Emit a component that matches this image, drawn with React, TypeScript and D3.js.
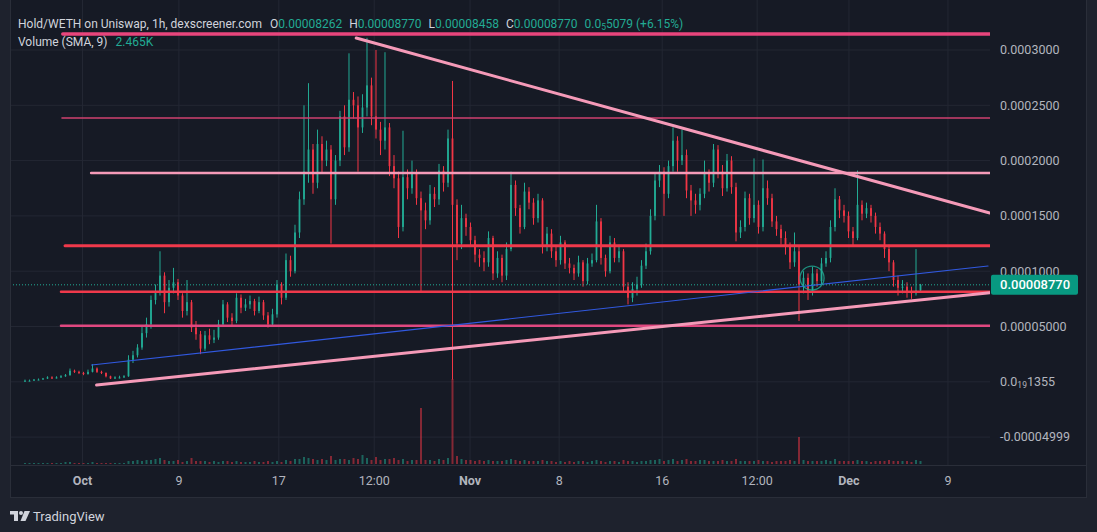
import * as d3 from "d3";
import React from "react";

// prices are in units of 1e-6 WETH, one candle per ~9 hours
const firstOpen = 1;
const closes = [
  1, 1, 2, 2, 3, 4, 3, 4, 5, 6,
  10, 9, 8, 7, 9, 12, 9, 8, 5, 3,
  4, 4, 5, 20, 24, 31, 44, 52, 74, 82,
  96, 72, 85, 90, 78, 64, 72, 49, 43, 30,
  42, 38, 40, 52, 70, 58, 55, 76, 67, 70,
  73, 64, 72, 60, 52, 61, 88, 76, 110, 100,
  135, 165, 190, 210, 180, 215, 200, 210, 165, 200,
  240, 212, 255, 250, 230, 248, 268, 240, 228, 218,
  230, 195, 184, 140, 185, 175, 188, 166, 155, 146,
  170, 165, 191, 180, 220, 160, 125, 148, 140, 128,
  115, 112, 108, 130, 98, 112, 96, 120, 178, 157,
  140, 172, 162, 148, 164, 122, 134, 118, 110, 126,
  107, 103, 98, 108, 91, 107, 110, 145, 112, 100,
  126, 112, 118, 86, 76, 84, 88, 105, 118, 150,
  182, 190, 170, 195, 218, 200, 205, 173, 164, 160,
  170, 188, 180, 210, 190, 175, 200, 176, 135, 140,
  166, 148, 160, 140, 175, 166, 145, 138, 130, 122,
  108, 118, 88, 94, 82, 98, 91, 107, 112, 140,
  165, 155, 150, 136, 130, 160, 152, 157, 150, 140,
  134, 120, 108, 92, 85, 86, 82, 80, 82.6, 87.7,
];
const highs = [
  2, 2, 2.5, 3, 3.5, 5, 5, 5, 6, 7,
  12, 11, 10, 9, 11, 16, 13, 10, 8.5, 5.5,
  5, 5.5, 6, 24, 28, 34, 50, 58, 78, 88,
  118, 99, 92, 103, 93, 80, 92, 74, 55, 46,
  46, 48, 47, 56, 74, 72, 62, 80, 79, 75,
  78, 75, 77, 74, 63, 66, 92, 90, 116, 114,
  142, 172, 250, 270, 215, 228, 222, 218, 214, 205,
  245, 250, 297, 262, 258, 260, 311, 275, 300, 235,
  298, 234, 205, 190, 227, 192, 200, 192, 172, 162,
  178, 176, 197, 195, 228, 272, 165, 160, 152, 144,
  132, 120, 118, 136, 132, 118, 115, 126, 190, 182,
  160, 180, 176, 166, 170, 166, 140, 138, 122, 132,
  128, 112, 106, 114, 110, 112, 116, 160, 148, 115,
  132, 130, 124, 120, 90, 90, 95, 110, 125, 156,
  188, 196, 194, 200, 230, 222, 228, 210, 178, 170,
  175, 200, 192, 215, 214, 196, 206, 204, 180, 146,
  172, 170, 202, 164, 201, 182, 170, 150, 142, 136,
  126, 135, 122, 100, 98, 104, 102, 112, 118, 146,
  175, 168, 160, 154, 140, 191, 164, 162, 160, 153,
  144, 136, 124, 110, 96, 92, 90, 86, 120, 88.5,
];
const lows = [
  0, 0.5, 1, 1.5, 2, 2.5, 2.5, 3, 3.5, 4.5,
  5.5, 8, 7, 6, 6.5, 8.5, 8, 7, 4, 2.5,
  2.5, 3, 3.5, 4.5, 17, 22, 29, 40, 48, 70,
  78, 62, 68, 80, 74, 58, 60, 45, 38, 25,
  28, 34, 35, 38, 50, 54, 50, 53, 62, 64,
  66, 60, 62, 56, 49, 50, 58, 70, 74, 95,
  98, 130, 160, 180, 170, 175, 188, 195, 125, 160,
  195, 205, 208, 238, 190, 225, 240, 232, 220, 205,
  210, 186, 175, 130, 136, 165, 170, 160, 82, 138,
  142, 158, 160, 172, 176, 2, 110, 120, 132, 122,
  108, 104, 100, 104, 92, 94, 90, 92, 118, 150,
  134, 138, 156, 142, 144, 116, 118, 112, 104, 106,
  102, 98, 92, 95, 86, 88, 104, 108, 106, 95,
  98, 108, 108, 82, 70, 72, 78, 85, 102, 115,
  146, 176, 150, 166, 190, 190, 196, 166, 150, 152,
  155, 166, 172, 176, 184, 168, 172, 170, 127, 130,
  136, 142, 144, 134, 136, 160, 140, 132, 124, 115,
  102, 104, 55, 80, 74, 78, 86, 88, 104, 108,
  136, 148, 144, 130, 122, 128, 146, 148, 144, 134,
  128, 112, 100, 86, 78, 80, 76, 75, 78, 81,
];
const volumes = [
  1, 1, 1, 1, 1, 1, 1, 1, 1, 2, 2, 1, 1, 1, 1, 2, 1, 1, 1, 1,
  1, 1, 1, 3, 3, 4, 3, 4, 4, 5, 6, 4, 3, 3, 4, 2, 3, 6, 3, 3,
  3, 2, 3, 2, 3, 3, 2, 3, 2, 2, 2, 3, 2, 2, 3, 2, 3, 2, 4, 3,
  5, 5, 7, 6, 5, 4, 5, 4, 8, 4, 5, 5, 4, 6, 5, 9, 6, 4, 7, 4,
  5, 5, 6, 4, 5, 3, 4, 4, 56, 4, 4, 3, 5, 4, 6, 85, 8, 5, 4, 4,
  3, 4, 3, 4, 3, 3, 3, 4, 5, 4, 3, 4, 3, 3, 3, 4, 3, 3, 2, 3,
  2, 3, 2, 3, 3, 2, 3, 4, 3, 2, 3, 3, 2, 4, 3, 3, 2, 3, 3, 4,
  4, 5, 3, 4, 5, 3, 4, 5, 3, 3, 4, 4, 3, 3, 3, 4, 3, 3, 5, 3,
  3, 3, 3, 4, 3, 3, 2, 3, 3, 3, 4, 3, 27, 4, 3, 3, 3, 3, 4, 3,
  5, 3, 3, 3, 3, 4, 3, 3, 2, 3, 3, 3, 4, 3, 3, 3, 3, 2, 4, 3,
];

const priceTicks = [300, 250, 200, 150, 100, 50, 0, -50];
const priceLabels = ["0.0003000", "0.0002500", "0.0002000", "0.0001500", "0.0001000", "0.00005000", "0.0|19|1355", "-0.00004999"];
const timeTicks = [12.78, 34.2, 56.4, 77.6, 98.9, 118.7, 141.6, 162.7, 183.1, 205.1];
const timeLabels = ["Oct", "9", "17", "12:00", "Nov", "8", "16", "12:00", "Dec", "9"];

// drawn objects: horizontal levels (price, start bar), trend lines (bar, price, bar, price)
const levelPrices = [314.5, 238.5, 188.8, 123.1, 81.5, 50.7];
const levelStarts = [8.4, 8.2, 14.7, 8.9, 8.0, 8.0];
const trendLines = [
  [73.6, 310.8, 214.4, 152.6],
  [15.9, -2.9, 214.4, 80.6],
  [14.8, 15.2, 214, 104.7],
];
const ellipse = [174.9, 93.8, 2.67, 10.85];
const lastPrice = 87.7;
const lastLabel = "0.00008770";

const UP = "#22ab94";
const DOWN = "#f23645";
const levelStyles = [
  { c: "#e8457c", w: 3.5 },
  { c: "#cf416f", w: 1.3 },
  { c: "#f59ab8", w: 2.5 },
  { c: "#f0394b", w: 3 },
  { c: "#f0394b", w: 2.5 },
  { c: "#e04880", w: 2.5 },
];
const trendStyles = [
  { c: "#f59ab8", w: 3 },
  { c: "#f59ab8", w: 3 },
  { c: "#3159e0", w: 1.2 },
];

const FONT = "Roboto, 'Noto Sans', sans-serif";

export default function App() {
  const x = d3.scaleLinear().domain([-3.333, 214.444]).range([10, 990]);
  const y = d3.scaleLinear().domain([0, 300]).range([381.8, 50]);
  const vy = d3.scaleLinear().domain([0, 100]).range([464, 364]);
  const opens = closes.map((c, i) => (i === 0 ? firstOpen : closes[i - 1]));
  const line = d3.line<number[]>().x((d) => x(d[0])).y((d) => y(d[1]));

  return (
    <svg width={1097} height={532} style={{ position: "absolute", left: 0, top: 0, display: "block" }} fontFamily={FONT}>
      <rect width={1097} height={532} fill="#1e222d" />
      <rect x={10} y={0} width={1076} height={497} fill="#161a25" />
      <defs>
        <clipPath id="pane">
          <rect x={10} y={0} width={980} height={465} />
        </clipPath>
      </defs>

      {/* grid */}
      {priceTicks.map((t) => (
        <line key={"gy" + t} x1={10} x2={990} y1={y(t)} y2={y(t)} stroke="#232733" strokeWidth={1} />
      ))}
      {timeTicks.map((t, i) => (
        <line key={"gx" + i} x1={x(t)} x2={x(t)} y1={0} y2={465} stroke="#232733" strokeWidth={1} />
      ))}

      <g clipPath="url(#pane)">
        {/* volume */}
        {volumes.map((v, i) => (
          <rect
            key={"v" + i}
            x={x(i) - 1}
            width={2}
            y={vy(v)}
            height={vy(0) - vy(v)}
            fill={closes[i] >= opens[i] ? UP : DOWN}
            opacity={0.5}
          />
        ))}

        {/* candles */}
        {closes.map((c, i) => {
          const o = opens[i];
          const col = c >= o ? UP : DOWN;
          const top = y(Math.max(o, c));
          const bot = y(Math.min(o, c));
          return (
            <g key={"c" + i}>
              <line x1={x(i)} x2={x(i)} y1={y(highs[i])} y2={y(lows[i])} stroke={col} strokeWidth={1} />
              <rect x={x(i) - 0.9} width={1.8} y={top} height={Math.max(1, bot - top)} fill={col} />
            </g>
          );
        })}

        {/* drawings */}
        {levelPrices.map((p, i) => (
          <line
            key={"l" + i}
            x1={x(levelStarts[i])}
            x2={990}
            y1={y(p)}
            y2={y(p)}
            stroke={levelStyles[i].c}
            strokeWidth={levelStyles[i].w}
            strokeLinecap="round"
          />
        ))}
        {trendLines.map((t, i) => (
          <path
            key={"t" + i}
            d={line([[t[0], t[1]], [t[2], t[3]]]) || ""}
            stroke={trendStyles[i].c}
            strokeWidth={trendStyles[i].w}
            strokeLinecap="round"
            fill="none"
          />
        ))}
        <ellipse
          cx={x(ellipse[0])}
          cy={y(ellipse[1])}
          rx={x(ellipse[2]) - x(0)}
          ry={y(0) - y(ellipse[3])}
          fill="none"
          stroke={UP}
          strokeWidth={1.3}
          opacity={0.8}
        />
        <line x1={10} x2={990} y1={y(lastPrice)} y2={y(lastPrice)} stroke={UP} strokeWidth={1} strokeDasharray="1 2" />
      </g>

      {/* price axis */}
      {priceTicks.map((t, i) => {
        const parts = priceLabels[i].split("|");
        return (
          <text key={"pl" + i} x={1000} y={y(t)} dy="0.35em" fontSize={12.5} fill="#b2b5be">
            {parts.length === 3 ? (
              <>
                {parts[0]}
                <tspan fontSize={8.5} dy={2}>{parts[1]}</tspan>
                <tspan dy={-2}>{parts[2]}</tspan>
              </>
            ) : (
              parts[0]
            )}
          </text>
        );
      })}
      <rect x={991} y={y(lastPrice) - 10} width={87} height={20} rx={2} fill="#089981" />
      <text x={1000} y={y(lastPrice)} dy="0.36em" fontSize={13} fontWeight={500} fill="#ffffff">
        {lastLabel}
      </text>

      {/* time axis */}
      <line x1={10} x2={1086} y1={465.5} y2={465.5} stroke="#2a2e39" strokeWidth={1} />
      {timeTicks.map((t, i) => {
        const isMonth = /^[A-Za-z]+$/.test(timeLabels[i]);
        return (
          <text
            key={"tl" + i}
            x={x(t)}
            y={481}
            dy="0.35em"
            textAnchor="middle"
            fontSize={12.5}
            fontWeight={isMonth ? 700 : 400}
            fill="#b2b5be"
          >
            {timeLabels[i]}
          </text>
        );
      })}
      <line x1={1086.5} x2={1086.5} y1={0} y2={497} stroke="#2a2e39" strokeWidth={1} />
      <line x1={10.5} x2={10.5} y1={0} y2={497} stroke="#2a2e39" strokeWidth={1} />
      <line x1={10} x2={1087} y1={497.5} y2={497.5} stroke="#2a2e39" strokeWidth={1} />

      {/* legend */}
      <text x={18} y={24} dy="0.35em" fontSize={12} fill="#d1d4dc">
        Hold/WETH on Uniswap, 1h, dexscreener.com
        <tspan dx={8}>O</tspan>
        <tspan fill={UP}>0.00008262</tspan>
        <tspan dx={7}>H</tspan>
        <tspan fill={UP}>0.00008770</tspan>
        <tspan dx={7}>L</tspan>
        <tspan fill={UP}>0.00008458</tspan>
        <tspan dx={7}>C</tspan>
        <tspan fill={UP}>0.00008770</tspan>
        <tspan dx={7} fill={UP}>0.0</tspan>
        <tspan fill={UP} fontSize={8.5} dy={2}>5</tspan>
        <tspan fill={UP} dy={-2}>5079 (+6.15%)</tspan>
      </text>
      <text x={18} y={42} dy="0.35em" fontSize={12} fill="#d1d4dc">
        Volume (SMA, 9)
        <tspan dx={8} fill={UP}>2.465K</tspan>
      </text>

      {/* TradingView mark */}
      <g fill="#d1d4dc">
        <rect x={10} y={511} width={8} height={3.5} />
        <rect x={14} y={511} width={4} height={10} />
        <circle cx={21} cy={513} r={2} />
        <polygon points="24.5,511 30,511 25.5,521 20.5,521" />
      </g>
      <text x={33} y={516} dy="0.35em" fontSize={13} fill="#d1d4dc">
        TradingView
      </text>
    </svg>
  );
}
